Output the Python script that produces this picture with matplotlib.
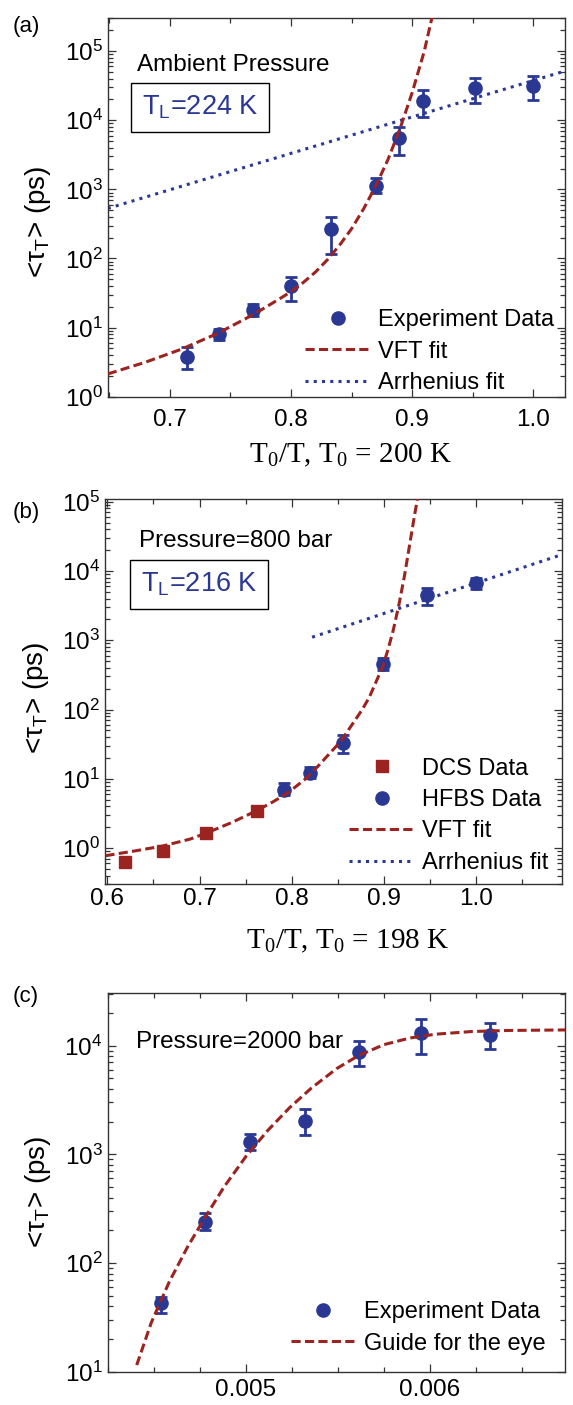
import numpy as np
import matplotlib; matplotlib.use("Agg")
import matplotlib.pyplot as plt
from matplotlib.ticker import LogLocator, MultipleLocator, FormatStrFormatter, NullFormatter

plt.rcParams["font.family"] = ["Liberation Sans", "DejaVu Sans"]

BLUE = "#2a3894"; RED = "#9c2420"; SPINE = "#333333"

# ---- panel (a): ambient pressure ----
xa = [0.714, 0.741, 0.769, 0.800, 0.833, 0.870, 0.889, 0.909, 0.952, 1.000]
ya = [3.8, 8.2, 18, 40, 263, 1130, 5600, 19100, 28900, 31300]
ya_lo = [2.5, 6.6, 14.7, 24.5, 116, 900, 3160, 11200, 17600, 19700]
ya_hi = [5.3, 9.7, 21.8, 54.6, 402, 1450, 8000, 27300, 40500, 43700]
vft_a_x = [0.649, 0.68, 0.71, 0.74, 0.77, 0.79, 0.80, 0.81, 0.82, 0.83, 0.84, 0.85, 0.86, 0.87,
           0.88, 0.89, 0.90, 0.905, 0.91, 0.9165]
vft_a_y = [2.14, 3.16, 4.9, 8.32, 15.8, 25.7, 33.1, 44.7, 63.1, 95.5, 155, 269, 525, 1122,
           2692, 7586, 25119, 50119, 100000, 316228]
arr_a_x = [0.649, 1.026]
arr_a_y = [530, 51500]

# ---- panel (b): 800 bar ----
xb_dcs = [0.619, 0.660, 0.707, 0.762]
yb_dcs = [0.64, 0.91, 1.65, 3.45]
yb_dcs_lo = [0.55, 0.80, 1.47, 3.1]
yb_dcs_hi = [0.73, 1.02, 1.85, 3.9]
xb_hfbs = [0.792, 0.820, 0.855, 0.899, 0.947, 1.000]
yb_hfbs = [7.0, 12.3, 33.4, 456, 4500, 6670]
yb_hfbs_lo = [5.9, 10.2, 23.4, 370, 3240, 5500]
yb_hfbs_hi = [8.7, 14.7, 43, 560, 5600, 8000]
vft_b_x = [0.598, 0.63, 0.66, 0.69, 0.707, 0.735, 0.762, 0.78, 0.797, 0.815, 0.829, 0.853, 0.876,
           0.884, 0.898, 0.904, 0.910, 0.916, 0.922, 0.928, 0.933, 0.937]
vft_b_y = [0.776, 0.91, 1.07, 1.35, 1.64, 2.34, 3.47, 4.68, 6.46, 10.0, 15.5, 34.7, 98,
           150, 400, 710, 1400, 3200, 8300, 25100, 63100, 125900]
arr_b_x = [0.822, 1.095]
arr_b_y = [1105, 17600]

# ---- panel (c): 2000 bar ----
xc = [0.004539, 0.004778, 0.005020, 0.005321, 0.005614, 0.005950, 0.006330]
yc = [42.6, 240, 1306, 2023, 8790, 13000, 12500]
yc_lo = [34.9, 200, 1100, 1500, 6500, 8300, 9300]
yc_hi = [48.3, 290, 1550, 2600, 11000, 17500, 16000]
guide_x = [0.004406, 0.004485, 0.004584, 0.004683, 0.004778, 0.004881, 0.005, 0.005119, 0.005238,
           0.005356, 0.005495, 0.005614, 0.005752, 0.005891, 0.00603, 0.006228, 0.006426, 0.006752]
guide_y = [11.5, 28.2, 67.6, 141, 263, 501, 955, 1660, 2690, 4070, 6170, 8130, 10230, 11750,
           12740, 13490, 13800, 13960]

fig = plt.figure(figsize=(5.73, 14.05), dpi=100)
axa = fig.add_axes([0.189, 0.7176, 0.797, 0.2698])
axb = fig.add_axes([0.184, 0.3706, 0.797, 0.2740])
axc = fig.add_axes([0.1885, 0.0237, 0.797, 0.2693])

def style(ax, xmaj, xmin, fmt, xpad):
    ax.set_yscale("log")
    ax.yaxis.set_major_locator(LogLocator(base=10, numticks=12))
    ax.yaxis.set_minor_locator(LogLocator(base=10, subs=np.arange(2, 10), numticks=40))
    ax.yaxis.set_minor_formatter(NullFormatter())
    ax.xaxis.set_major_locator(MultipleLocator(xmaj))
    ax.xaxis.set_minor_locator(MultipleLocator(xmin))
    ax.xaxis.set_major_formatter(FormatStrFormatter(fmt))
    ax.tick_params(which="both", direction="in", top=True, right=True, color=SPINE, width=0.9)
    ax.tick_params(which="major", length=6, labelsize=17.5)
    ax.tick_params(which="minor", length=3.5)
    ax.tick_params(axis="x", pad=xpad)
    ax.tick_params(axis="y", pad=4)
    for s in ax.spines.values():
        s.set_color(SPINE); s.set_linewidth(1.0)

def errpts(ax, x, y, lo, hi, col, mk, label):
    ax.errorbar(x, y, yerr=[np.array(y) - np.array(lo), np.array(hi) - np.array(y)], fmt="none",
                ecolor=col, elinewidth=2, capsize=4, capthick=2, zorder=3)
    h, = ax.plot(x, y, mk, color=col, ms=9.5 if mk == "o" else 9, zorder=4, label=label, ls="none")
    return h

def ylab(ax, yc_):
    ax.set_ylabel(r"<τ$_\mathregular{T}$> (ps)", fontsize=20)
    ax.yaxis.set_label_coords(-0.12, yc_)

def tl_box(ax, x, y, s):
    ax.text(x, y, s, transform=ax.transAxes, fontsize=19.5, color=BLUE, va="baseline",
            bbox=dict(boxstyle="square,pad=0.4", fc="white", ec="black", lw=1.0))

vft_kw = dict(color=RED, lw=2.2, dashes=(3, 1.4), zorder=5)
arr_kw = dict(color=BLUE, lw=2.2, ls=(0, (1, 1.7)), zorder=2)
leg_kw = dict(frameon=False, fontsize=17, handlelength=2.75, handletextpad=0.35, labelspacing=0.4,
              borderpad=0, borderaxespad=0, loc="lower left", numpoints=1)

# (a)
style(axa, 0.1, 0.05, "%.1f", 8.5)
ha = errpts(axa, xa, ya, ya_lo, ya_hi, BLUE, "o", "Experiment Data")
va, = axa.plot(vft_a_x, vft_a_y, label="VFT fit", **vft_kw)
aa, = axa.plot(arr_a_x, arr_a_y, label="Arrhenius fit", **arr_kw)
axa.set_xlim(0.6494, 1.026); axa.set_ylim(1, 3.04e5)
axa.text(0.062, 0.860, "Ambient Pressure", transform=axa.transAxes, fontsize=17.5, va="baseline")
tl_box(axa, 0.0731, 0.7435, r"T$_\mathregular{L}$=224 K")
axa.legend(handles=[ha, va, aa], bbox_to_anchor=(0.431, 0.007), **leg_kw)
ylab(axa, 0.462)
axa.set_xlabel(r"T$_\mathregular{0}$/T, T$_\mathregular{0}$ = 200 K", fontsize=21, family="Liberation Serif")
axa.xaxis.set_label_coords(0.531, -0.118)

# (b)
style(axb, 0.1, 0.05, "%.1f", 2.5)
hd = errpts(axb, xb_dcs, yb_dcs, yb_dcs_lo, yb_dcs_hi, RED, "s", "DCS Data")
hh = errpts(axb, xb_hfbs, yb_hfbs, yb_hfbs_lo, yb_hfbs_hi, BLUE, "o", "HFBS Data")
vb, = axb.plot(vft_b_x, vft_b_y, label="VFT fit", **vft_kw)
ab, = axb.plot(arr_b_x, arr_b_y, label="Arrhenius fit", **arr_kw)
axb.set_xlim(0.598, 1.093); axb.set_ylim(0.3, 1.08e5)
axb.text(0.0736, 0.875, "Pressure=800 bar", transform=axb.transAxes, fontsize=17.5, va="baseline")
tl_box(axb, 0.0775, 0.760, r"T$_\mathregular{L}$=216 K")
axb.legend(handles=[hd, hh, vb, ab], bbox_to_anchor=(0.5335, 0.027), **leg_kw)
ylab(axb, 0.484)
axb.set_xlabel(r"T$_\mathregular{0}$/T, T$_\mathregular{0}$ = 198 K", fontsize=21, family="Liberation Serif")
axb.xaxis.set_label_coords(0.530, -0.112)

# (c)
style(axc, 0.001, 0.00025, "%.3f", 5)
hc = errpts(axc, xc, yc, yc_lo, yc_hi, BLUE, "o", "Experiment Data")
gc, = axc.plot(guide_x, guide_y, label="Guide for the eye", **vft_kw)
axc.set_xlim(0.00425, 0.006734); axc.set_ylim(10, 3.03e4)
axc.text(0.0604, 0.8547, "Pressure=2000 bar", transform=axc.transAxes, fontsize=17.5, va="baseline")
axc.legend(handles=[hc, gc], bbox_to_anchor=(0.3996, 0.045), **leg_kw)
ylab(axc, 0.476)

for lab, y in [("(a)", 0.9808), ("(b)", 0.6349), ("(c)", 0.2911)]:
    fig.text(0.022, y, lab, fontsize=16, va="center")

fig.savefig("out.png", dpi=100)
